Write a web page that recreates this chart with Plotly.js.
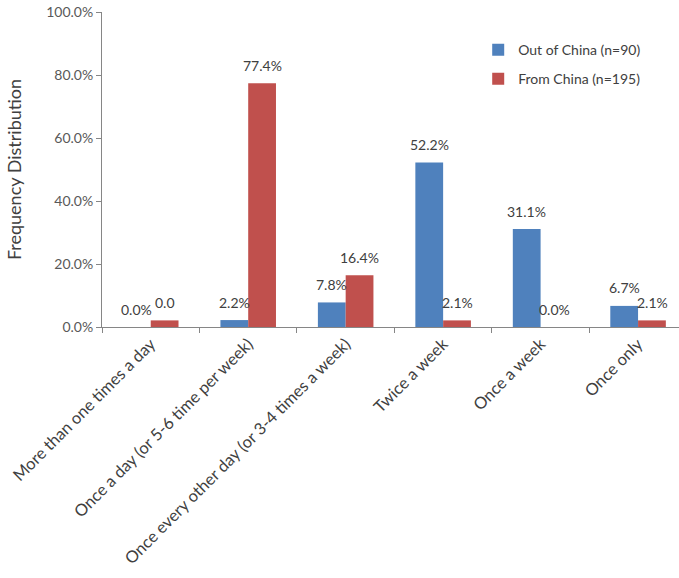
<!DOCTYPE html>
<html>
<head>
<meta charset="utf-8">
<script src="https://cdn.plot.ly/plotly-3.0.1.min.js"></script>
<style>html,body{margin:0;padding:0;background:#fff;}#chart{width:679px;height:578px;}</style>
</head>
<body>
<div id="chart"></div>
<script>
const categories = [
  "More than one times a day",
  "Once a day (or 5-6 time per week)",
  "Once every other day (or 3-4 times a week)",
  "Twice a week",
  "Once a week",
  "Once only"
];
const outOfChina = [0.0, 2.2, 7.8, 52.2, 31.1, 6.7];
const fromChina = [2.1, 77.4, 16.4, 2.1, 0.0, 2.1];
const outOfChinaLabels = ["0.0%", "2.2%", "7.8%", "52.2%", "31.1%", "6.7%"];
const fromChinaLabels = ["0.0", "77.4%", "16.4%", "2.1%", "0.0%", "2.1%"];
const yTickVals = [0, 20, 40, 60, 80, 100];
const yTickText = ["0.0%", "20.0%", "40.0%", "60.0%", "80.0%", "100.0%"];

const font = "Lato, 'Open Sans', sans-serif";
const traces = [
  {
    type: "bar", name: "Out of China (n=90)", x: categories, y: outOfChina,
    marker: {color: "#4F81BD"}, legendgroup: "a", hoverinfo: "none"
  },
  {
    type: "bar", name: "From China (n=195)", x: categories, y: fromChina,
    marker: {color: "#C0504D"}, legendgroup: "b", hoverinfo: "none"
  }
];

// value labels, placed above each bar through the axes
const annotations = [];
function addLabels(vals, labels, xshift) {
  vals.forEach((v, i) => {
    annotations.push({
      x: categories[i], y: v, xref: "x", yref: "y", text: labels[i],
      showarrow: false, xshift: xshift, yshift: 18, yanchor: "middle",
      font: {family: font, size: 14, color: "#404040"}
    });
  });
}
addLabels(outOfChina, outOfChinaLabels, -14);
addLabels(fromChina, fromChinaLabels, 14);

const layout = {
  width: 679, height: 578,
  margin: {l: 102, r: 0, t: 12, b: 251},
  paper_bgcolor: "#fff", plot_bgcolor: "#fff",
  font: {family: font, color: "#404040"},
  barmode: "group", bargap: 0.43, bargroupgap: 0,
  showlegend: true,
  legend: {x: 0.652, y: 0.93, xanchor: "left", yanchor: "top",
    font: {family: font, size: 14, color: "#404040"},
    traceorder: "grouped", tracegroupgap: 8, bgcolor: "rgba(0,0,0,0)"},
  annotations: annotations,
  xaxis: {
    type: "category", range: [-0.5, 5.42],
    tickangle: -45, tickson: "boundaries", ticks: "outside", ticklen: 5,
    tickcolor: "#868686", showline: true, linecolor: "#868686",
    tickfont: {family: font, size: 16.5, color: "#404040"},
    showgrid: false, zeroline: false, fixedrange: true
  },
  yaxis: {
    range: [0, 100], tickvals: yTickVals, ticktext: yTickText,
    ticks: "outside", ticklen: 5, tickcolor: "#868686",
    showline: true, linecolor: "#868686", showgrid: false, zeroline: false,
    tickfont: {family: font, size: 14, color: "#595959"},
    title: {text: "Frequency Distribution", font: {family: font, size: 18, color: "#404040"}, standoff: 19},
    fixedrange: true
  }
};
Plotly.newPlot("chart", traces, layout, {displayModeBar: false, staticPlot: true});
</script>
</body>
</html>
